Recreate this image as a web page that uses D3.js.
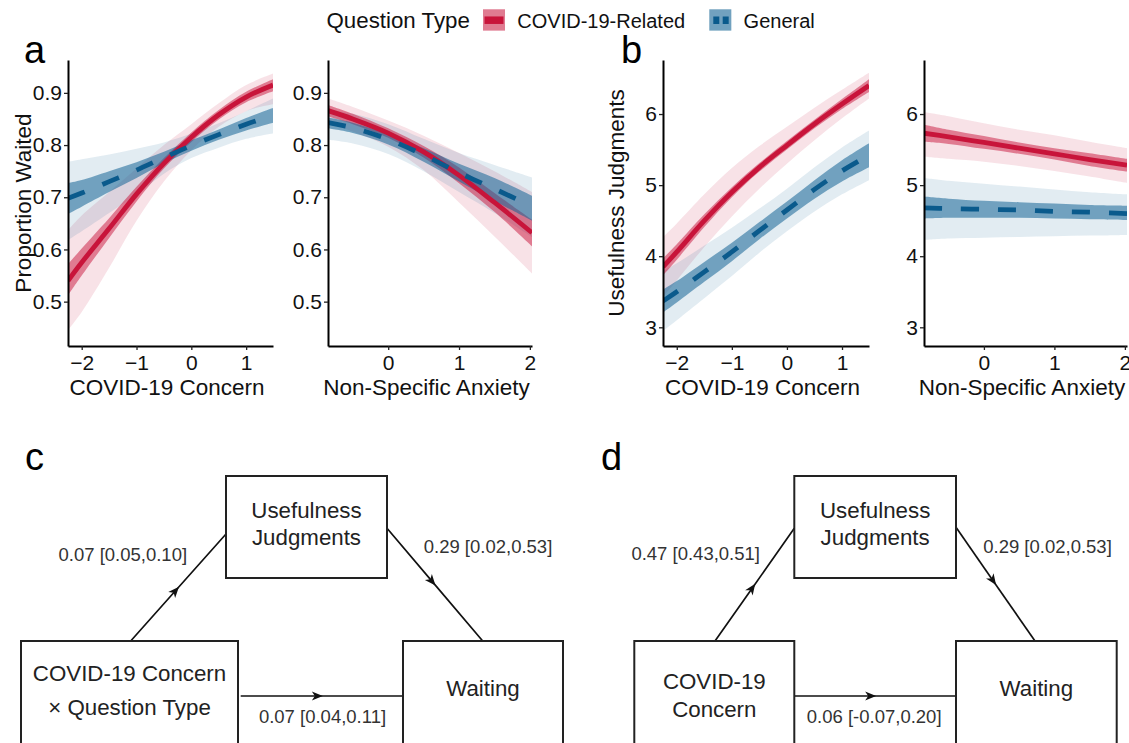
<!DOCTYPE html>
<html>
<head>
<meta charset="utf-8">
<script src="https://cdn.jsdelivr.net/npm/d3@7"></script>
<style>
  body { margin: 0; background: #fff; }
  svg { display: block; font-family: "Liberation Sans", Arial, Helvetica, sans-serif; }
</style>
</head>
<body>
<svg id="fig" width="1129" height="743"></svg>
<script>
// ---- data ----
var groups = ["COVID-19-Related", "General"];

var concernX = [-2.25, -2, -1.5, -1, -0.5, 0, 0.5, 1, 1.49];
var anxietyX = [-0.85, -0.5, 0, 0.5, 1, 1.5, 2.03];
var concernDomain = [-2.25, 1.49];
var anxietyDomain = [-0.85, 2.03];

var waitDomain = [0.415, 0.963];
var waitTicks = [0.5, 0.6, 0.7, 0.8, 0.9];
var usefulDomain = [2.737, 6.76];
var usefulTicks = [3, 4, 5, 6];

// panel a, left: proportion waited by COVID-19 concern
var waitConcernCovidFit = [0.54, 0.575, 0.64, 0.706, 0.765, 0.815, 0.858, 0.892, 0.915];
var waitConcernCovidInner = [[0.512, 0.572], [0.55, 0.602], [0.622, 0.66], [0.692, 0.72], [0.755, 0.775], [0.806, 0.824], [0.849, 0.867], [0.882, 0.902], [0.903, 0.926]];
var waitConcernCovidOuter = [[0.445, 0.637], [0.48, 0.665], [0.565, 0.71], [0.655, 0.755], [0.73, 0.8], [0.79, 0.84], [0.835, 0.88], [0.865, 0.915], [0.878, 0.937]];
var waitConcernGenFit = [0.698, 0.708, 0.73, 0.752, 0.776, 0.799, 0.82, 0.84, 0.857];
var waitConcernGenInner = [[0.668, 0.727], [0.682, 0.733], [0.71, 0.75], [0.737, 0.767], [0.765, 0.787], [0.789, 0.809], [0.81, 0.83], [0.828, 0.852], [0.843, 0.871]];
var waitConcernGenOuter = [[0.618, 0.768], [0.635, 0.773], [0.67, 0.782], [0.705, 0.793], [0.745, 0.805], [0.775, 0.822], [0.795, 0.842], [0.812, 0.865], [0.822, 0.889]];

// panel a, right: proportion waited by non-specific anxiety
var waitAnxCovidFit = [0.866, 0.85, 0.823, 0.787, 0.742, 0.69, 0.632];
var waitAnxCovidInner = [[0.855, 0.877], [0.84, 0.86], [0.814, 0.832], [0.776, 0.798], [0.727, 0.757], [0.672, 0.708], [0.606, 0.657]];
var waitAnxCovidOuter = [[0.843, 0.889], [0.826, 0.873], [0.797, 0.847], [0.752, 0.818], [0.69, 0.785], [0.625, 0.75], [0.554, 0.71]];
var waitAnxGenFit = [0.843, 0.833, 0.811, 0.781, 0.747, 0.716, 0.683];
var waitAnxGenInner = [[0.832, 0.853], [0.823, 0.843], [0.801, 0.821], [0.768, 0.794], [0.73, 0.764], [0.693, 0.737], [0.655, 0.703]];
var waitAnxGenOuter = [[0.81, 0.867], [0.803, 0.86], [0.783, 0.84], [0.75, 0.812], [0.71, 0.785], [0.67, 0.762], [0.624, 0.738]];

// panel b, left: usefulness judgments by COVID-19 concern
var useConcernCovidFit = [3.85, 4.06, 4.5, 4.9, 5.25, 5.56, 5.86, 6.14, 6.4];
var useConcernCovidInner = [[3.73, 3.97], [3.95, 4.17], [4.41, 4.59], [4.83, 4.97], [5.19, 5.31], [5.5, 5.62], [5.8, 5.92], [6.07, 6.21], [6.31, 6.49]];
var useConcernCovidOuter = [[3.43, 4.27], [3.66, 4.46], [4.13, 4.87], [4.56, 5.24], [4.95, 5.55], [5.3, 5.82], [5.63, 6.09], [5.94, 6.34], [6.22, 6.58]];
var useConcernGenFit = [3.37, 3.5, 3.78, 4.06, 4.36, 4.65, 4.94, 5.2, 5.42];
var useConcernGenInner = [[3.21, 3.53], [3.35, 3.65], [3.64, 3.92], [3.93, 4.19], [4.24, 4.48], [4.53, 4.77], [4.81, 5.07], [5.05, 5.35], [5.25, 5.59]];
var useConcernGenOuter = [[2.95, 3.79], [3.1, 3.9], [3.41, 4.15], [3.72, 4.4], [4.05, 4.67], [4.35, 4.95], [4.63, 5.25], [4.87, 5.53], [5.07, 5.77]];

// panel b, right: usefulness judgments by non-specific anxiety
var useAnxCovidFit = [5.73, 5.68, 5.6, 5.52, 5.44, 5.36, 5.28];
var useAnxCovidInner = [[5.61, 5.85], [5.58, 5.78], [5.51, 5.69], [5.44, 5.6], [5.36, 5.52], [5.27, 5.45], [5.19, 5.37]];
var useAnxCovidOuter = [[5.4, 6.03], [5.37, 5.97], [5.33, 5.87], [5.27, 5.78], [5.2, 5.7], [5.12, 5.61], [5.03, 5.52]];
var useAnxGenFit = [4.68, 4.67, 4.66, 4.65, 4.63, 4.62, 4.6];
var useAnxGenInner = [[4.53, 4.84], [4.54, 4.81], [4.54, 4.78], [4.54, 4.76], [4.53, 4.74], [4.52, 4.72], [4.51, 4.71]];
var useAnxGenOuter = [[4.23, 5.1], [4.25, 5.06], [4.26, 5.02], [4.27, 4.98], [4.28, 4.94], [4.29, 4.9], [4.3, 4.87]];

// mediation path estimates [a path, b path, direct path]
var mediationC = ["0.07 [0.05,0.10]", "0.29 [0.02,0.53]", "0.07 [0.04,0.11]"];
var mediationD = ["0.47 [0.43,0.51]", "0.29 [0.02,0.53]", "0.06 [-0.07,0.20]"];

// ---- styles ----
var red = "#c8143a", blue = "#0a5a8c";
var redOuter = "rgba(200,20,60,0.12)", redInner = "rgba(200,20,60,0.5)";
var blueOuter = "rgba(20,100,150,0.12)", blueInner = "rgba(20,100,150,0.55)";
var ink = "#111";

var svg = d3.select("#fig");
var plotTop = 60, plotBottom = 346;

var panels = [
  { x0: 68, x1: 273, xs: concernX, xDomain: concernDomain, xTicks: [-2, -1, 0, 1],
    yDomain: waitDomain, yTicks: waitTicks, yFmt: ".1f", xTitle: "COVID-19 Concern",
    yTitle: "Proportion Waited", yTitleX: 31,
    covid: [waitConcernCovidFit, waitConcernCovidInner, waitConcernCovidOuter],
    gen: [waitConcernGenFit, waitConcernGenInner, waitConcernGenOuter] },
  { x0: 328, x1: 532, xs: anxietyX, xDomain: anxietyDomain, xTicks: [0, 1, 2],
    yDomain: waitDomain, yTicks: waitTicks, yFmt: ".1f", xTitle: "Non-Specific Anxiety",
    covid: [waitAnxCovidFit, waitAnxCovidInner, waitAnxCovidOuter],
    gen: [waitAnxGenFit, waitAnxGenInner, waitAnxGenOuter] },
  { x0: 663, x1: 869, xs: concernX, xDomain: concernDomain, xTicks: [-2, -1, 0, 1],
    yDomain: usefulDomain, yTicks: usefulTicks, yFmt: "d", xTitle: "COVID-19 Concern",
    yTitle: "Usefulness Judgments", yTitleX: 623.5,
    covid: [useConcernCovidFit, useConcernCovidInner, useConcernCovidOuter],
    gen: [useConcernGenFit, useConcernGenInner, useConcernGenOuter] },
  { x0: 924, x1: 1127, xs: anxietyX, xDomain: anxietyDomain, xTicks: [0, 1, 2],
    yDomain: usefulDomain, yTicks: usefulTicks, yFmt: "d", xTitle: "Non-Specific Anxiety",
    covid: [useAnxCovidFit, useAnxCovidInner, useAnxCovidOuter],
    gen: [useAnxGenFit, useAnxGenInner, useAnxGenOuter] }
];

var defs = svg.append("defs");

panels.forEach(function(p, k) {
  var x = d3.scaleLinear().domain(p.xDomain).range([p.x0, p.x1]);
  var y = d3.scaleLinear().domain(p.yDomain).range([plotBottom, plotTop]);

  defs.append("clipPath").attr("id", "clip" + k)
    .append("rect").attr("x", p.x0).attr("y", plotTop)
    .attr("width", p.x1 - p.x0).attr("height", plotBottom - plotTop);

  var g = svg.append("g").attr("clip-path", "url(#clip" + k + ")");

  var band = d3.area()
    .x(function(d, i) { return x(p.xs[i]); })
    .y0(function(d) { return y(d[0]); })
    .y1(function(d) { return y(d[1]); })
    .curve(d3.curveCatmullRom.alpha(0.5));
  var line = d3.line()
    .x(function(d, i) { return x(p.xs[i]); })
    .y(function(d) { return y(d); })
    .curve(d3.curveCatmullRom.alpha(0.5));

  // wide ribbons, then narrow ribbons, then fitted lines
  g.append("path").attr("d", band(p.covid[2])).attr("fill", redOuter);
  g.append("path").attr("d", band(p.gen[2])).attr("fill", blueOuter);
  g.append("path").attr("d", band(p.covid[1])).attr("fill", redInner);
  g.append("path").attr("d", band(p.gen[1])).attr("fill", blueInner);
  g.append("path").attr("d", line(p.covid[0])).attr("fill", "none")
    .attr("stroke", red).attr("stroke-width", 4.8);
  g.append("path").attr("d", line(p.gen[0])).attr("fill", "none")
    .attr("stroke", blue).attr("stroke-width", 4.8).attr("stroke-dasharray", "18,19");

  var xAxis = svg.append("g").attr("transform", "translate(0," + plotBottom + ")")
    .call(d3.axisBottom(x).tickValues(p.xTicks).tickFormat(d3.format("d"))
      .tickSize(4).tickSizeOuter(0).tickPadding(5));
  var yAxis = svg.append("g").attr("transform", "translate(" + p.x0 + ",0)")
    .call(d3.axisLeft(y).tickValues(p.yTicks).tickFormat(d3.format(p.yFmt))
      .tickSize(4).tickSizeOuter(0).tickPadding(2));

  [xAxis, yAxis].forEach(function(a) {
    a.select(".domain").attr("stroke", "#000").attr("stroke-width", 2);
    a.selectAll(".tick line").attr("stroke", "#222").attr("stroke-width", 1.3);
    a.selectAll(".tick text").attr("fill", ink).style("font-size", "21px")
      .style("font-family", "'Liberation Sans', Arial, sans-serif");
  });

  svg.append("text")
    .attr("x", (p.x0 + p.x1) / 2 - 3.5).attr("y", 395)
    .attr("text-anchor", "middle").attr("fill", ink)
    .style("font-size", "22.5px").text(p.xTitle);

  if (p.yTitle) {
    svg.append("text")
      .attr("transform", "translate(" + p.yTitleX + "," + (plotTop + plotBottom) / 2 + ") rotate(-90)")
      .attr("text-anchor", "middle").attr("fill", ink)
      .style("font-size", "22.5px").text(p.yTitle);
  }
});

// ---- legend ----
var legend = svg.append("g");
legend.append("text").attr("x", 326.5).attr("y", 28.3).attr("fill", ink)
  .style("font-size", "22.3px").text("Question Type");

var keys = [
  { x: 483, label: groups[0], outer: redOuter, inner: redInner, color: red, dash: null, lx: 484.5, lx2: 503.5 },
  { x: 709.3, label: groups[1], outer: blueOuter, inner: blueInner, color: blue, dash: "6,3.4", lx: 713.3, lx2: 729 }
];
keys.forEach(function(k) {
  legend.append("rect").attr("x", k.x).attr("y", 9.3).attr("width", 22).attr("height", 21.3).attr("fill", k.outer);
  legend.append("rect").attr("x", k.x).attr("y", 9.3).attr("width", 22).attr("height", 21.3).attr("fill", k.inner);
  legend.append("line").attr("x1", k.lx).attr("x2", k.lx2).attr("y1", 20.2).attr("y2", 20.2)
    .attr("stroke", k.color).attr("stroke-width", 7.5).attr("stroke-dasharray", k.dash);
  legend.append("text").attr("x", k.x + 34.3).attr("y", 28.3).attr("fill", ink)
    .style("font-size", "20px").text(k.label);
});

// ---- panel letters ----
[["a", 24, 62.7], ["b", 621, 62.7], ["c", 25, 469.5], ["d", 601, 470]].forEach(function(l) {
  svg.append("text").attr("x", l[1]).attr("y", l[2]).attr("fill", "#000")
    .style("font-size", "38px").text(l[0]);
});

// ---- mediation diagrams ----
defs.append("marker").attr("id", "arrow")
  .attr("markerUnits", "userSpaceOnUse")
  .attr("viewBox", "-12 -6 14 12").attr("refX", 0).attr("refY", 0)
  .attr("markerWidth", 14).attr("markerHeight", 12).attr("orient", "auto")
  .append("path").attr("d", "M1,0 L-10,-4.6 L-7,0 L-10,4.6 Z").attr("fill", "#111");

var diagrams = [
  { labels: mediationC,
    boxes: [
      { x: 226, y: 476, w: 161, h: 102, lines: ["Usefulness", "Judgments"], base: [518.3, 545] },
      { x: 21, y: 641, w: 217, h: 120, lines: ["COVID-19 Concern", "\u00d7 Question Type"], base: [681, 715] },
      { x: 403, y: 641, w: 160, h: 120, lines: ["Waiting"], base: [696] }
    ],
    arrows: [[130.7, 641, 226, 534], [387, 528.3, 482.7, 641], [240.7, 696, 403, 696]],
    labelPos: [[122.8, 560.7], [488, 553.3], [322.5, 723.3]] },
  { labels: mediationD,
    boxes: [
      { x: 794.3, y: 476, w: 161.7, h: 102, lines: ["Usefulness", "Judgments"], base: [518.3, 545] },
      { x: 634.3, y: 641, w: 160, h: 120, lines: ["COVID-19", "Concern"], base: [689.3, 716.7] },
      { x: 956, y: 641, w: 160.7, h: 120, lines: ["Waiting"], base: [696] }
    ],
    arrows: [[715, 641, 794.3, 528.3], [956, 527.3, 1035, 641], [794.3, 696, 956, 696]],
    labelPos: [[695.7, 560], [1047.5, 553.3], [874.2, 723.3]] }
];

diagrams.forEach(function(dg) {
  var g = svg.append("g");
  dg.arrows.forEach(function(a) {
    var mx = (a[0] + a[2]) / 2, my = (a[1] + a[3]) / 2;
    g.append("path").attr("d", "M" + a[0] + "," + a[1] + "L" + mx + "," + my + "L" + a[2] + "," + a[3])
      .attr("fill", "none").attr("stroke", "#111").attr("stroke-width", 1.7)
      .attr("marker-mid", "url(#arrow)");
  });
  dg.boxes.forEach(function(b) {
    g.append("rect").attr("x", b.x).attr("y", b.y).attr("width", b.w).attr("height", b.h)
      .attr("fill", "none").attr("stroke", "#222").attr("stroke-width", 2);
    b.lines.forEach(function(t, i) {
      g.append("text").attr("x", b.x + b.w / 2).attr("y", b.base[i])
        .attr("text-anchor", "middle").attr("fill", "#222")
        .style("font-size", "22.3px").text(t);
    });
  });
  dg.labels.forEach(function(t, i) {
    g.append("text").attr("x", dg.labelPos[i][0]).attr("y", dg.labelPos[i][1])
      .attr("text-anchor", "middle").attr("fill", "#333")
      .style("font-size", "18.5px").text(t);
  });
});
</script>
</body>
</html>
